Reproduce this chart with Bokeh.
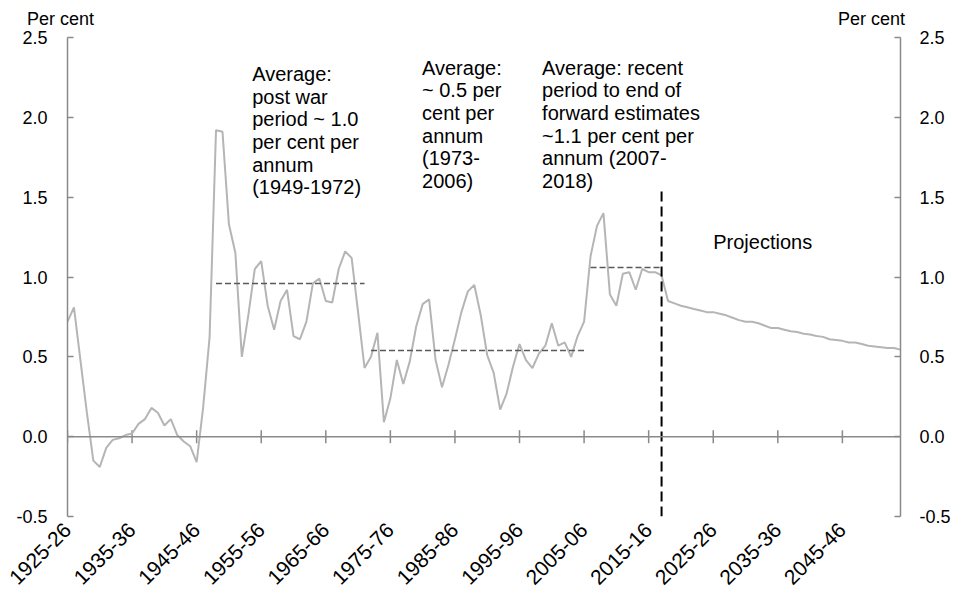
from math import pi
from bokeh.plotting import figure
from bokeh.layouts import column
from bokeh.models import LinearAxis, FixedTicker, Range1d, NumeralTickFormatter, Span, Div
from bokeh.embed import file_html
from bokeh.resources import INLINE
from bokeh.core.properties import value

# ---------------- data ----------------
first_year = 1925  # 1925-26
historical = [
    0.72, 0.81, 0.48, 0.15, -0.15, -0.19, -0.07, -0.02, -0.01, 0.01,   # 1925-1934
    0.02, 0.08, 0.11, 0.18, 0.15, 0.07, 0.11, 0.01, -0.03, -0.06,      # 1935-1944
    -0.16, 0.18, 0.62, 1.92, 1.91, 1.33, 1.15, 0.50, 0.76, 1.05,       # 1945-1954
    1.10, 0.82, 0.67, 0.85, 0.92, 0.63, 0.61, 0.72, 0.96, 0.99,        # 1955-1964
    0.85, 0.84, 1.05, 1.16, 1.12, 0.78, 0.43, 0.50, 0.65, 0.09,        # 1965-1974
    0.24, 0.48, 0.33, 0.47, 0.69, 0.83, 0.86, 0.48, 0.31, 0.45,        # 1975-1984
    0.61, 0.78, 0.91, 0.95, 0.76, 0.51, 0.40, 0.17, 0.27, 0.44,        # 1985-1994
    0.58, 0.48, 0.43, 0.52, 0.57, 0.71, 0.57, 0.59, 0.50, 0.63,        # 1995-2004
    0.72, 1.13, 1.32, 1.40, 0.89, 0.82, 1.02, 1.03, 0.92, 1.05,        # 2005-2014
    1.03, 1.03, 1.01,                                                  # 2015-2017
]
projected = [
    0.85, 0.835, 0.82, 0.81, 0.80, 0.79, 0.78, 0.78, 0.77, 0.76,       # 2018-2027
    0.745, 0.73, 0.72, 0.72, 0.71, 0.695, 0.68, 0.68, 0.67, 0.66,      # 2028-2037
    0.655, 0.645, 0.64, 0.63, 0.625, 0.61, 0.605, 0.60, 0.59, 0.59,    # 2038-2047
    0.58, 0.57, 0.565, 0.56, 0.555, 0.555, 0.545,                      # 2048-2054
]
tick_years = [1925, 1935, 1945, 1955, 1965, 1975, 1985, 1995, 2005, 2015, 2025, 2035, 2045]
tick_labels = ["1925-26", "1935-36", "1945-46", "1955-56", "1965-66", "1975-76", "1985-86",
               "1995-96", "2005-06", "2015-16", "2025-26", "2035-36", "2045-46"]
y_ticks = [-0.5, 0.0, 0.5, 1.0, 1.5, 2.0, 2.5]

avg_start = [1948, 1972, 2006]
avg_end = [1971, 2005, 2017]
avg_value = [0.96, 0.54, 1.06]

projection_start = 2017
projection_line_top = 1.55

notes = [
    "Average:\npost war\nperiod ~ 1.0\nper cent per\nannum\n(1949-1972)",
    "Average:\n~ 0.5 per\ncent per\nannum\n(1973-\n2006)",
    "Average: recent\nperiod to end of\nforward estimates\n~1.1 per cent per\nannum (2007-\n2018)",
    "Projections",
]
note_x = [1953.6, 1979.9, 1998.5, 2025.0]
note_y = [2.34, 2.38, 2.38, 1.29]
unit_labels = ["Per cent", "Per cent"]

growth = historical + projected
years = [first_year + i for i in range(len(growth))]

FONT_NAME = "Liberation Sans"
FONT = value(FONT_NAME)
AXIS_GREY = "#8a8a8a"
W = 953
HEADER_H = 26

# ---------------- header with unit labels ----------------
header = Div(
    width=W, height=HEADER_H, margin=0,
    text=(
        f'<div style="position:relative;width:{W}px;height:{HEADER_H}px;'
        f'font-family:\'{FONT_NAME}\';font-size:18px;color:black;line-height:20px;">'
        f'<span style="position:absolute;left:27px;top:9px;white-space:nowrap;">{unit_labels[0]}</span>'
        f'<span style="position:absolute;right:48px;top:9px;white-space:nowrap;">{unit_labels[1]}</span>'
        f'</div>'
    ),
)

# ---------------- main chart ----------------
p = figure(width=W, height=571, title=None,
           x_range=Range1d(years[0], years[-1]), y_range=Range1d(-0.5, 2.5),
           output_backend="svg", toolbar_location=None,
           min_border_left=67, min_border_right=50, min_border_top=11, min_border_bottom=81)
p.grid.visible = False
p.outline_line_color = None
p.background_fill_color = "white"

# left axis
ya = p.yaxis[0]
ya.ticker = FixedTicker(ticks=y_ticks)
ya.formatter = NumeralTickFormatter(format="0.0")
ya.major_tick_in = 6
ya.major_tick_out = 0
ya.minor_tick_line_color = None
ya.major_label_standoff = 20
ya.axis_line_color = AXIS_GREY
ya.axis_line_width = 1.5
ya.major_tick_line_color = AXIS_GREY
ya.major_tick_line_width = 1.5
ya.major_label_text_font = FONT_NAME
ya.major_label_text_font_size = "18px"
ya.major_label_text_color = "black"

# right axis
ra = LinearAxis(ticker=FixedTicker(ticks=y_ticks), formatter=NumeralTickFormatter(format="0.0"),
                major_tick_in=6, major_tick_out=0, minor_tick_line_color=None,
                major_label_standoff=19, axis_line_color=AXIS_GREY, axis_line_width=1.5,
                major_tick_line_color=AXIS_GREY, major_tick_line_width=1.5,
                major_label_text_font=FONT_NAME, major_label_text_font_size="18px",
                major_label_text_color="black")
p.add_layout(ra, "right")

# bottom labels axis
xa = p.xaxis[0]
xa.ticker = FixedTicker(ticks=tick_years)
xa.major_label_overrides = {y: l for y, l in zip(tick_years, tick_labels)}
xa.major_label_orientation = pi / 4
xa.axis_line_color = None
xa.major_tick_line_color = None
xa.minor_tick_line_color = None
xa.major_tick_out = 0
xa.major_tick_in = 0
xa.major_label_standoff = 10
xa.major_label_text_font = FONT_NAME
xa.major_label_text_font_size = "21px"
xa.major_label_text_color = "black"

# zero line with crossing tick marks at the category ticks
p.add_layout(Span(location=0, dimension="width", line_color=AXIS_GREY, line_width=1.5))
p.scatter(x=tick_years, y=[0] * len(tick_years), marker="dash", angle=pi / 2, size=13,
          line_color=AXIS_GREY, line_width=1.5)

# series
p.line(years, growth, line_color="#b5b5b5", line_width=2)

# averages
p.segment(x0=avg_start, y0=avg_value, x1=avg_end, y1=avg_value,
          line_color="#595959", line_width=1.5, line_dash="6 3")

# projection divider
p.segment(x0=[projection_start], y0=[-0.5], x1=[projection_start], y1=[projection_line_top],
          line_color="black", line_width=2, line_dash="10 5")

# annotations
p.text(x=note_x, y=note_y, text=notes, text_font=FONT, text_font_size="20px",
       text_color="black", text_align="left", text_baseline="top", text_line_height=1.03)

layout = column(header, p, spacing=0)
open("out.html", "w").write(file_html(layout, INLINE))
